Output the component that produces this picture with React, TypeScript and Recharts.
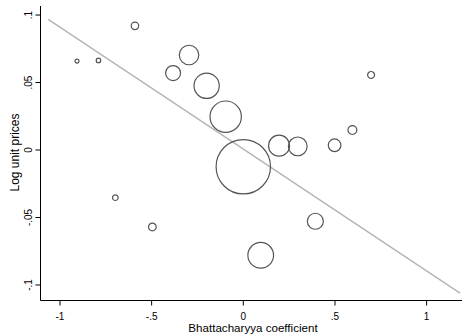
import React from "react";
import {
  ComposedChart,
  Scatter,
  Line,
  XAxis,
  YAxis,
  ZAxis,
} from "recharts";

// Bhattacharyya coefficient (x), log unit prices (y), bubble weight (w)
const bcoef = [-0.907, -0.79, -0.591, -0.698, -0.496, -0.296, -0.383, -0.2, -0.096, 0.0, 0.195, 0.297, 0.498, 0.595, 0.393, 0.095, 0.697];
const logPrice = [0.0659, 0.0664, 0.092, -0.0353, -0.057, 0.0704, 0.057, 0.0476, 0.0247, -0.0124, 0.0032, 0.0027, 0.0035, 0.0148, -0.0528, -0.078, 0.0556];
const weight = [4, 5, 14, 8, 15, 95, 56, 160, 245, 740, 110, 88, 40, 20, 64, 165, 12];

// linear fit endpoints
const fitX = [-1.064, 1.182];
const fitY = [0.0968, -0.1061];

const xTicks = [-1, -0.5, 0, 0.5, 1];
const yTicks = [-0.1, -0.05, 0, 0.05, 0.1];

const points = bcoef.map((x, i) => ({ x, y: logPrice[i], w: weight[i] }));
const fitData = fitX.map((x, i) => ({ x, y: fitY[i] }));

const FONT = "'Liberation Sans', Arial, sans-serif";

const fmt = (v: number) => {
  if (v === 0) return "0";
  const s = String(v);
  return s.replace("0.", ".");
};

const XTick = (props: any) => {
  const { x, y, payload } = props;
  return (
    <text x={x} y={y + 6} textAnchor="middle" fontSize={10} fontFamily={FONT} fill="#000">
      {fmt(payload.value)}
    </text>
  );
};

const YTick = (props: any) => {
  const { x, y, payload } = props;
  return (
    <text
      x={0}
      y={0}
      transform={`translate(${x},${y}) rotate(-90)`}
      textAnchor="middle"
      fontSize={10}
      fontFamily={FONT}
      fill="#000"
    >
      {fmt(payload.value)}
    </text>
  );
};

export default function App() {
  return (
    <div style={{ position: "absolute", left: 0, top: 0 }}>
      <ComposedChart
        width={462}
        height={334}
        margin={{ top: 6, right: 0, bottom: 0, left: 0 }}
        style={{ background: "#fff" }}
      >
        <XAxis
          dataKey="x"
          type="number"
          domain={[-1.1062, 1.1929]}
          allowDataOverflow
          ticks={xTicks}
          tick={<XTick />}
          tickSize={5}
          tickMargin={8}
          height={33.5}
          stroke="#000"
          label={{
            content: () => (
              <text x={253} y={331.6} textAnchor="middle" fontSize={11.6} fontFamily={FONT} fill="#000">
                Bhattacharyya coefficient
              </text>
            ),
          }}
        />
        <XAxis
          xAxisId="top"
          orientation="top"
          type="number"
          domain={[-1.1062, 1.1929]}
          height={0}
          tick={false}
          tickLine={false}
          axisLine={{ stroke: "#9a9a9a", strokeWidth: 1.5 }}
        />
        <YAxis
          type="number"
          domain={[-0.1115, 0.1067]}
          allowDataOverflow
          ticks={yTicks}
          tick={<YTick />}
          tickSize={5}
          tickMargin={3.5}
          width={40.5}
          stroke="#000"
          label={{
            content: () => (
              <text
                x={0}
                y={0}
                transform="translate(18.5,152.5) rotate(-90)"
                textAnchor="middle"
                fontSize={12}
                fontFamily={FONT}
                fill="#000"
              >
                Log unit prices
              </text>
            ),
          }}
        />
        <ZAxis dataKey="w" type="number" domain={[0, 740]} range={[0, Math.PI * 740]} />
        <Line
          data={fitData}
          dataKey="y"
          type="linear"
          dot={false}
          stroke="#b5b5b5"
          strokeWidth={1.5}
          isAnimationActive={false}
        />
        <Scatter
          data={points}
          dataKey="y"
          shape="circle"
          fill="none"
          stroke="#555"
          strokeWidth={1.2}
          isAnimationActive={false}
        />
      </ComposedChart>
    </div>
  );
}
